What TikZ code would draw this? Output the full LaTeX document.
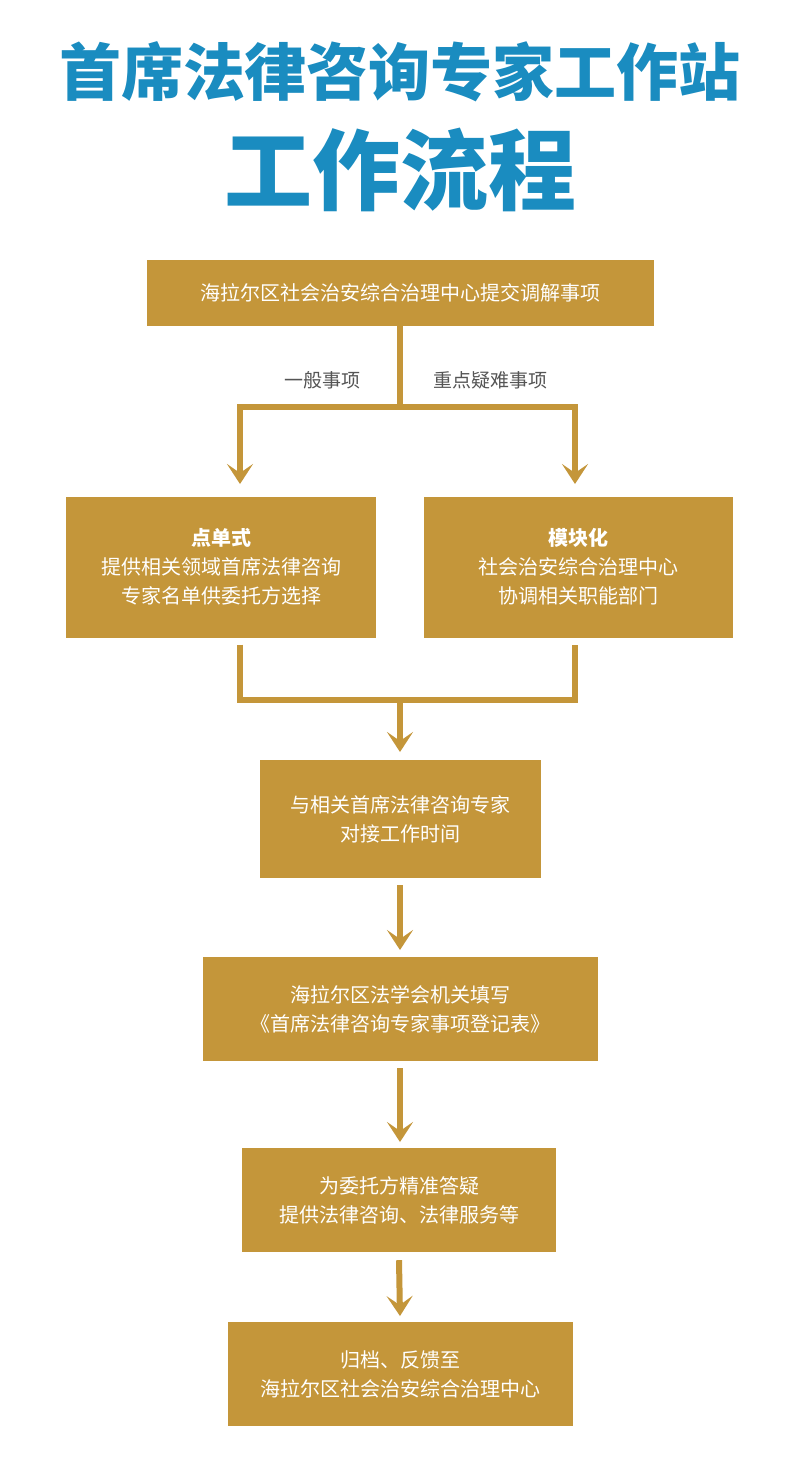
\documentclass[tikz,border=0pt]{standalone}
\usepackage{fontspec}
\setmainfont{Noto Sans CJK SC}
\usetikzlibrary{arrows.meta}
\definecolor{gold}{HTML}{C4963A}
\definecolor{tblue}{HTML}{1A8CC0}
\definecolor{lgray}{HTML}{555555}
\tikzset{
  box/.style={fill=gold, text=white, align=center, font=\fontsize{20}{29}\selectfont, inner sep=0pt, minimum height=#1},
  conn/.style={draw=gold, line width=6pt},
  arr/.style={conn, -{Stealth[length=20pt,width=26pt,inset=9pt]}},
  lab/.style={text=lgray, font=\fontsize{19}{22}\selectfont}
}
\begin{document}
\begin{tikzpicture}[x=1pt,y=-1pt]
\useasboundingbox (0,0) rectangle (798,1457);
\fill[white] (0,0) rectangle (798,1457);
\node[text=tblue, font=\fontsize{62}{62}\selectfont\bfseries] (t1) at (400,72) {首席法律咨询专家工作站};
\node[text=tblue, font=\fontsize{88}{88}\selectfont\bfseries] (t2) at (400,170) {工作流程};
\node[box=66pt, minimum width=507pt] (top) at (400,293) {海拉尔区社会治安综合治理中心提交调解事项};
\node[box=141pt, minimum width=310pt] (l) at (221,567) {\textbf{点单式}\\提供相关领域首席法律咨询\\专家名单供委托方选择};
\node[box=141pt, minimum width=309pt] (r) at (578,567) {\textbf{模块化}\\社会治安综合治理中心\\协调相关职能部门};
\node[box=118pt, minimum width=281pt] (b3) at (400,819) {与相关首席法律咨询专家\\对接工作时间};
\node[box=104pt, minimum width=395pt] (b4) at (400,1009) {海拉尔区法学会机关填写\\《首席法律咨询专家事项登记表》};
\node[box=104pt, minimum width=314pt] (b5) at (399,1200) {为委托方精准答疑\\提供法律咨询、法律服务等};
\node[box=104pt, minimum width=345pt] (b6) at (400,1374) {归档、反馈至\\海拉尔区社会治安综合治理中心};
\coordinate (s1) at (400,407);
\coordinate (lt) at (240,484);
\coordinate (rt) at (575,484);
\draw[conn] (top.south) -- (s1);
\draw[arr] (240,407) -- (lt);
\draw[arr] (575,407) -- (rt);
\draw[conn] (237,407) -- (578,407);
\node[lab] (la) at (322,380) {一般事项};
\node[lab] (lb) at (490,380) {重点疑难事项};
\coordinate (m) at (400,700);
\draw[conn] ([xshift=19pt,yshift=-7pt]l.south) -- (240,700) -- (575,700) -- ([xshift=-3pt,yshift=-7pt]r.south);
\draw[arr] (m) -- (400,752);
\draw[arr] ([yshift=-7pt]b3.south) -- (400,950);
\draw[arr] ([yshift=-7pt]b4.south) -- (400,1142);
\draw[arr] ([yshift=-8pt]b5.south) -- (400,1316);
\end{tikzpicture}
\end{document}
